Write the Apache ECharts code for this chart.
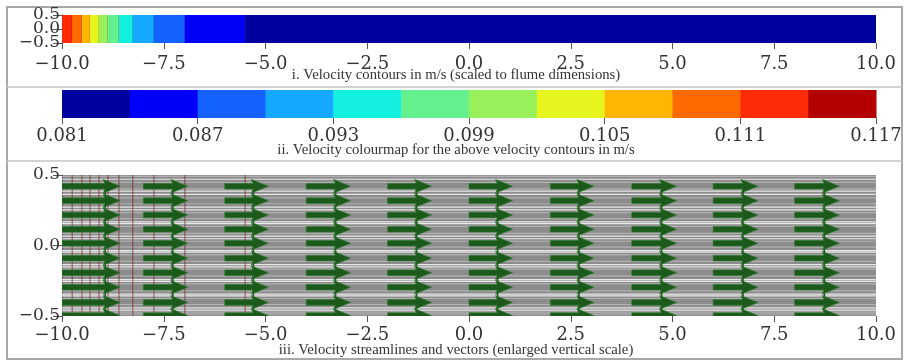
<!DOCTYPE html>
<html><head><meta charset="utf-8">
<script src="https://cdn.jsdelivr.net/npm/echarts@6/dist/echarts.min.js"></script>
<style>html,body{margin:0;padding:0;background:#fff}#c{width:906px;height:362px}</style>
</head><body><div id="c"></div>
<script>
// ---- data ----
const flumeRange = [-10, 10];
const depthRange = [-0.5, 0.5];
const xTickStep = 2.5;
const yTicks = [-0.5, 0.0, 0.5];
const colourTicks = [0.081, 0.087, 0.093, 0.099, 0.105, 0.111, 0.117];
const colourEdges = [0.081, 0.084, 0.087, 0.090, 0.093, 0.096, 0.099, 0.102, 0.105, 0.108, 0.111, 0.114, 0.117];
const colourPalette = ['#00009e', '#0000fa', '#1462ff', '#14a8ff', '#14f0e0', '#64f08c', '#98f05a', '#e6f51e', '#ffb600', '#ff6a00', '#ff2a06', '#b40000'];
// contour bands along the flume (x edges) and their velocity (m/s)
const contourEdges = [-10, -9.75, -9.51, -9.31, -9.09, -8.87, -8.60, -8.26, -7.74, -6.98, -5.50, 10];
const contourVelocity = [0.1125, 0.1095, 0.1065, 0.1035, 0.1005, 0.0975, 0.0945, 0.0915, 0.0885, 0.0855, 0.0825];
// velocity vectors
const arrowX = [-10, -8, -6, -4, -2, 0, 2, 4, 6, 8];
const arrowLength = [1.43, 1.09, 1.07, 1.09, 1.08, 1.07, 1.07, 1.1, 1.1, 1.1];
const arrowY = [0.42, 0.318, 0.216, 0.115, 0.016, -0.09, -0.193, -0.296, -0.404, -0.497];
// streamlines (y positions)
const streamBright = [0.47, 0.385, 0.362, 0.272, 0.252, 0.168, 0.155, 0.066, 0.048, -0.036, -0.047, -0.136, -0.152, -0.242, -0.255, -0.345, -0.357, -0.442, -0.458];
const streamFaint = [0.49, 0.447, 0.402, 0.338, 0.296, 0.233, 0.19, 0.135, 0.086, 0.03, -0.012, -0.066, -0.112, -0.168, -0.216, -0.272, -0.322, -0.376, -0.42, -0.472, -0.486];
const captions = [
  'i. Velocity contours in m/s (scaled to flume dimensions)',
  'ii. Velocity colourmap for the above velocity contours in m/s',
  'iii. Velocity streamlines and vectors (enlarged vertical scale)'
];

// ---- helpers ----
function colourFor(v) {
  for (let i = 0; i < colourEdges.length - 1; i++) {
    if (v >= colourEdges[i] && v < colourEdges[i + 1]) return colourPalette[i];
  }
  return colourPalette[colourPalette.length - 1];
}
function fmt(v) {
  const s = Math.abs(v).toFixed(1);
  return (v < -1e-9 ? '\u2212' : '') + s;
}
const FONT = 'DejaVu Serif';
const tickColor = '#555';
const labelColor = '#333';

function xAxisFor(grid, margin) {
  return {
    type: 'value', gridIndex: grid, min: flumeRange[0], max: flumeRange[1], interval: xTickStep,
    axisLine: { show: false, onZero: false },
    axisTick: { show: true, length: 6, lineStyle: { color: tickColor, width: 1 } },
    axisLabel: { fontFamily: FONT, fontSize: 18, color: labelColor, margin: margin, formatter: fmt, showMinLabel: true, showMaxLabel: true, hideOverlap: false },
    splitLine: { show: false }
  };
}
function yAxisFor(grid, labelValues, showLine) {
  return {
    type: 'value', gridIndex: grid, position: 'left', offset: 0, min: depthRange[0], max: depthRange[1],
    axisLine: { show: showLine, onZero: false, lineStyle: { color: tickColor, width: 1 } },
    axisTick: { show: showLine, length: 9, customValues: yTicks, lineStyle: { color: tickColor, width: 1 } },
    axisLabel: { fontFamily: FONT, fontSize: 17, color: labelColor, margin: 2, customValues: labelValues, formatter: fmt, showMinLabel: true, showMaxLabel: true, hideOverlap: false },
    splitLine: { show: false }
  };
}

const contourData = contourVelocity.map((v, i) => [contourEdges[i], contourEdges[i + 1], v]);
const binData = colourPalette.map((c, i) => [colourEdges[i], colourEdges[i + 1], i]);
const arrowData = [];
arrowX.forEach((x, ci) => arrowY.forEach(y => arrowData.push([x, y, arrowLength[ci]])));
const columnData = arrowX.map((x, ci) => [x, arrowLength[ci]]);
const boundaryData = contourEdges.slice(1, -1).map(x => [x]);

const HEAD_L = 17, HEAD_H = 6.8, SHAFT_H = 2.8;

const option = {
  animation: false,
  backgroundColor: '#fff',
  grid: [
    { left: 62, right: 30, top: 15, height: 28 },
    { left: 62, right: 30, top: 90, height: 28 },
    { left: 62, right: 30, top: 175, height: 141, show: true, backgroundColor: '#8c8c8c', borderWidth: 0 }
  ],
  xAxis: [
    xAxisFor(0, 12),
    {
      type: 'value', gridIndex: 1, min: colourEdges[0], max: colourEdges[colourEdges.length - 1],
      axisLine: { show: false, onZero: false },
      axisTick: { show: true, length: 6, customValues: colourTicks, lineStyle: { color: tickColor, width: 1 } },
      axisLabel: { fontFamily: FONT, fontSize: 18, color: labelColor, margin: 9, customValues: colourTicks, formatter: v => v.toFixed(3), showMinLabel: true, showMaxLabel: true },
      splitLine: { show: false }
    },
    xAxisFor(2, 10)
  ],
  yAxis: [
    yAxisFor(0, [yTicks[0], yTicks[2]], true),
    { type: 'value', gridIndex: 1, min: 0, max: 1, show: false },
    yAxisFor(2, yTicks, true),
    yAxisFor(0, [yTicks[1]], false)
  ],
  series: [
    // contour bands
    {
      type: 'custom', xAxisIndex: 0, yAxisIndex: 0, clip: true, data: contourData, z: 1,
      renderItem: (params, api) => {
        const a = api.coord([api.value(0), depthRange[1]]);
        const b = api.coord([api.value(1), depthRange[0]]);
        return {
          type: 'group', children: [
            { type: 'rect', shape: { x: a[0], y: a[1], width: b[0] - a[0] + 0.5, height: b[1] - a[1] }, style: { fill: colourFor(api.value(2)) } },
            { type: 'line', shape: { x1: b[0], y1: a[1], x2: b[0], y2: b[1] }, style: { stroke: 'rgba(40,40,40,0.45)', lineWidth: 0.8 } }
          ]
        };
      }
    },
    // colour bar
    {
      type: 'custom', xAxisIndex: 1, yAxisIndex: 1, data: binData,
      renderItem: (params, api) => {
        const a = api.coord([api.value(0), 1]);
        const b = api.coord([api.value(1), 0]);
        return { type: 'rect', shape: { x: a[0], y: a[1], width: b[0] - a[0] + 0.5, height: b[1] - a[1] }, style: { fill: colourPalette[api.value(2)] } };
      }
    },
    // faint streamlines
    {
      type: 'custom', xAxisIndex: 2, yAxisIndex: 2, clip: true, data: streamFaint.map(y => [y]),
      renderItem: (params, api) => {
        const a = api.coord([flumeRange[0], api.value(0)]);
        const b = api.coord([flumeRange[1], api.value(0)]);
        return { type: 'line', shape: { x1: a[0], y1: a[1], x2: b[0], y2: b[1] }, style: { stroke: 'rgba(185,185,185,0.8)', lineWidth: 1.2 } };
      }
    },
    // bright streamlines
    {
      type: 'custom', xAxisIndex: 2, yAxisIndex: 2, clip: true, data: streamBright.map(y => [y]),
      renderItem: (params, api) => {
        const a = api.coord([flumeRange[0], api.value(0)]);
        const b = api.coord([flumeRange[1], api.value(0)]);
        return { type: 'line', shape: { x1: a[0], y1: a[1], x2: b[0], y2: b[1] }, style: { stroke: 'rgba(242,242,242,0.9)', lineWidth: 1.2 } };
      }
    },
    // contour boundaries on streamline panel
    {
      type: 'custom', xAxisIndex: 2, yAxisIndex: 2, clip: true, data: boundaryData,
      renderItem: (params, api) => {
        const a = api.coord([api.value(0), depthRange[1]]);
        const b = api.coord([api.value(0), depthRange[0]]);
        return { type: 'line', shape: { x1: a[0], y1: a[1], x2: b[0], y2: b[1] }, style: { stroke: 'rgba(120,30,30,0.7)', lineWidth: 1 } };
      }
    },
    // vertical line through each column of arrow heads
    {
      type: 'custom', xAxisIndex: 2, yAxisIndex: 2, clip: true, data: columnData,
      renderItem: (params, api) => {
        const tip = api.coord([api.value(0) + api.value(1), arrowY[0]]);
        const bot = api.coord([api.value(0) + api.value(1), depthRange[0]]);
        const x = tip[0] - HEAD_L + 2;
        return { type: 'line', shape: { x1: x, y1: tip[1] - 6, x2: x, y2: bot[1] }, style: { stroke: '#1d531d', lineWidth: 1.6 } };
      }
    },
    // velocity vectors
    {
      type: 'custom', xAxisIndex: 2, yAxisIndex: 2, clip: true, data: arrowData,
      renderItem: (params, api) => {
        const p0 = api.coord([api.value(0), api.value(1)]);
        const p1 = api.coord([api.value(0) + api.value(2), api.value(1)]);
        const y = p0[1];
        const hb = p1[0] - HEAD_L;
        const pts = [
          [p0[0], y - SHAFT_H], [hb + 2, y - SHAFT_H], [hb, y - HEAD_H], [p1[0], y],
          [hb, y + HEAD_H], [hb + 2, y + SHAFT_H], [p0[0], y + SHAFT_H]
        ];
        return { type: 'polygon', shape: { points: pts }, style: { fill: '#1c5a1c', stroke: '#2f7a2f', lineWidth: 0.7 } };
      }
    }
  ],
  graphic: [
    { type: 'rect', shape: { x: 7, y: 7, width: 895, height: 352 }, style: { fill: 'none', stroke: '#a8a8a8', lineWidth: 2 }, silent: true },
    { type: 'line', shape: { x1: 7, y1: 87, x2: 902, y2: 87 }, style: { stroke: '#c4c4c4', lineWidth: 1.5 }, silent: true },
    { type: 'line', shape: { x1: 7, y1: 161, x2: 902, y2: 161 }, style: { stroke: '#c4c4c4', lineWidth: 1.5 }, silent: true },
    { type: 'text', x: 456, y: 75, style: { text: captions[0], font: '14.7px "Liberation Serif"', fill: '#333', align: 'center', verticalAlign: 'middle' } },
    { type: 'text', x: 456, y: 150, style: { text: captions[1], font: '14.7px "Liberation Serif"', fill: '#333', align: 'center', verticalAlign: 'middle' } },
    { type: 'text', x: 456, y: 350, style: { text: captions[2], font: '14.7px "Liberation Serif"', fill: '#333', align: 'center', verticalAlign: 'middle' } }
  ]
};
const chart = echarts.init(document.getElementById('c'), null, { renderer: 'canvas' });
chart.setOption(option);
</script></body></html>
